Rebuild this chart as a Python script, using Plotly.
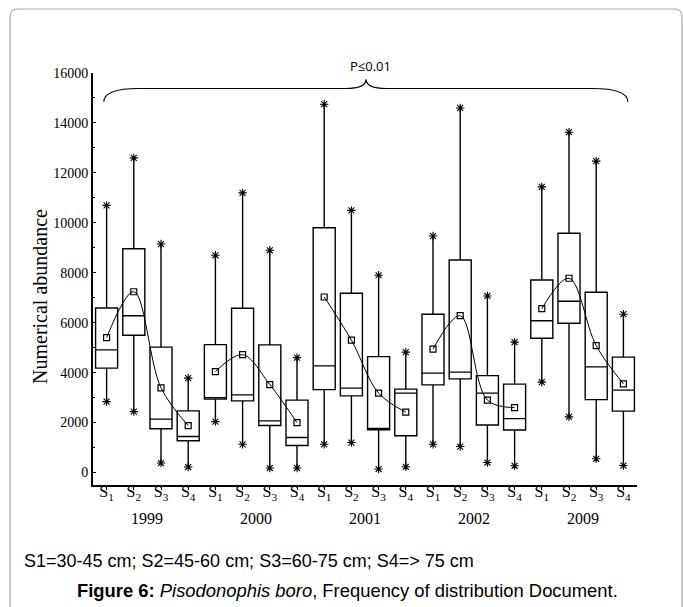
import plotly.graph_objects as go

# ---------------- data ----------------
years = ["1999", "2000", "2001", "2002", "2009"]
classes = ["S<sub>1</sub>", "S<sub>2</sub>", "S<sub>3</sub>", "S<sub>4</sub>"]

max_vals = [10700, 12600, 9150, 3780, 8700, 11200, 8900, 4600, 14750, 10500,
            7900, 4820, 9470, 14600, 7070, 5220, 11440, 13630, 12470, 6340]
q3_vals = [6590, 8960, 5020, 2470, 5120, 6580, 5110, 2900, 9800, 7180,
           4640, 3340, 6340, 8510, 3880, 3540, 7710, 9580, 7220, 4620]
median_vals = [4910, 6280, 2140, 1440, 3000, 3110, 2070, 1400, 4270, 3380,
               1760, 3180, 3980, 4020, 3180, 2160, 6080, 6860, 4230, 3300]
q1_vals = [4180, 5500, 1750, 1270, 2940, 2870, 1880, 1080, 3320, 3070,
           1710, 1470, 3510, 3750, 1900, 1700, 5380, 5980, 2920, 2460]
mean_vals = [5400, 7240, 3390, 1880, 4040, 4720, 3520, 2000, 7030, 5300,
             3180, 2420, 4940, 6280, 2900, 2600, 6560, 7780, 5080, 3550]
min_vals = [2840, 2440, 380, 220, 2040, 1130, 180, 180, 1130, 1200,
            140, 230, 1130, 1040, 400, 270, 3620, 2230, 550, 280]

y_ticks = [0, 2000, 4000, 6000, 8000, 10000, 12000, 14000, 16000]
y_range = [-500, 16000]

# ---------------- figure ----------------
n = len(years) * len(classes)
xpos = list(range(n))
tick_text = classes * len(years)

fig = go.Figure()

fig.add_trace(go.Box(
    x=xpos, q1=q1_vals, median=median_vals, q3=q3_vals,
    lowerfence=min_vals, upperfence=max_vals,
    width=0.81, whiskerwidth=0,
    fillcolor="white", line=dict(color="black", width=1.4),
    boxpoints=False, hoverinfo="skip", showlegend=False,
))

# whisker-end asterisks
fig.add_trace(go.Scatter(
    x=xpos + xpos, y=max_vals + min_vals, mode="markers",
    marker=dict(symbol="asterisk-open", size=7, color="black",
                line=dict(color="black", width=1.1)),
    showlegend=False, hoverinfo="skip", cliponaxis=False,
))

# smooth curves through the means, one per year
for g in range(len(years)):
    xs = xpos[g * 4:(g + 1) * 4]
    ys = mean_vals[g * 4:(g + 1) * 4]
    fig.add_trace(go.Scatter(
        x=xs, y=ys, mode="lines",
        line=dict(color="black", width=1, shape="spline", smoothing=1.0),
        showlegend=False, hoverinfo="skip",
    ))

# mean squares
fig.add_trace(go.Scatter(
    x=xpos, y=mean_vals, mode="markers",
    marker=dict(symbol="square-open", size=6, color="black",
                line=dict(color="black", width=1.2)),
    showlegend=False, hoverinfo="skip",
))

serif = "Liberation Serif, Times New Roman, serif"
sans = "Liberation Sans, Arial, sans-serif"

fig.update_layout(
    width=683, height=607,
    margin=dict(l=93, r=46, t=73, b=122),
    paper_bgcolor="white", plot_bgcolor="white",
    showlegend=False,
    xaxis=dict(
        range=[-0.5, n - 0.5], tickmode="array", tickvals=xpos, ticktext=tick_text,
        showgrid=False, zeroline=False, showline=True, linecolor="black", linewidth=2,
        ticks="outside", ticklen=3, tickwidth=1.2, tickcolor="black",
        ticklabelstandoff=-12,
        tickfont=dict(family=serif, size=16, color="black"),
    ),
    yaxis=dict(
        range=y_range, tickmode="array", tickvals=y_ticks, tickformat="d",
        showgrid=False, zeroline=False, showline=True, linecolor="black", linewidth=2,
        ticks="inside", ticklen=3, tickcolor="black",
        minor=dict(ticks="inside", ticklen=2, dtick=1000, tickcolor="black"),
        tickfont=dict(family=serif, size=14, color="black"),
    ),
)

# year labels under each group
for g, yr in enumerate(years):
    fig.add_annotation(x=g * 4 + 1.5, xref="x", y=(485 - 518) / 412, yref="paper",
                       text=yr, showarrow=False, yanchor="middle",
                       font=dict(family=serif, size=16, color="black"))

# y-axis title
fig.add_annotation(x=(40 - 93) / 544, xref="paper", y=(485 - 297) / 412, yref="paper",
                   text="Numerical abundance", textangle=-90, showarrow=False,
                   xanchor="center", yanchor="middle",
                   font=dict(family=serif, size=20, color="black"))

# brace over all groups with P value
yb, yh, yt = 14850, 15380, 15750
xl, xr, xm = -0.1, n - 0.84, 9.54
brace = (f"M {xl},{yb} Q {xl},{yh} {xl + 1.3},{yh} "
         f"L {xm - 0.75},{yh} Q {xm},{yh} {xm},{yt} "
         f"Q {xm},{yh} {xm + 0.75},{yh} "
         f"L {xr - 1.3},{yh} Q {xr},{yh} {xr},{yb}")
fig.add_shape(type="path", path=brace, xref="x", yref="y",
              line=dict(color="black", width=1.2))
fig.add_annotation(x=9.7, xref="x", y=(16300 - y_range[0]) / (y_range[1] - y_range[0]),
                   yref="paper", yanchor="middle", text="P≤0.01", showarrow=False,
                   font=dict(family="Open Sans, sans-serif", size=13, color="black"))

# captions
fig.add_annotation(x=(22 - 93) / 544, xref="paper", y=(485 - 561) / 412, yref="paper",
                   text="S1=30-45 cm; S2=45-60 cm; S3=60-75 cm; S4=> 75 cm",
                   showarrow=False, xanchor="left", yanchor="middle",
                   font=dict(family=sans, size=18, color="black"))
fig.add_annotation(x=(347.5 - 93) / 544, xref="paper", y=(485 - 590) / 412, yref="paper",
                   text="<b>Figure 6:</b> <i>Pisodonophis boro</i>, Frequency of distribution Document.",
                   showarrow=False, xanchor="center", yanchor="middle",
                   font=dict(family=sans, size=18.4, color="black"))

# rounded light-grey frame
def px(xp):
    return (xp - 93) / 544

def py(yp):
    return (485 - yp) / 412

r = 8
frame = (f"M {px(10)},{py(640)} L {px(10)},{py(9 + r)} "
         f"Q {px(10)},{py(9)} {px(10 + r)},{py(9)} "
         f"L {px(682 - r)},{py(9)} Q {px(682)},{py(9)} {px(682)},{py(9 + r)} "
         f"L {px(682)},{py(640)}")
fig.add_shape(type="path", path=frame, xref="paper", yref="paper",
              line=dict(color="#aaaaaa", width=1.2), layer="below")

fig.write_html("out.html", config={"displayModeBar": False},
               post_script="document.body.style.margin='0';")
